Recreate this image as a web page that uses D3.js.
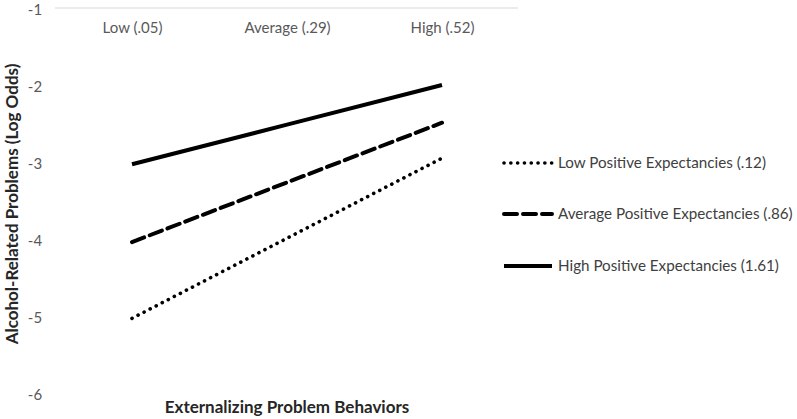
<!DOCTYPE html>
<html><head><meta charset="utf-8">
<script src="https://cdn.jsdelivr.net/npm/d3@7"></script>
<style>body{margin:0;background:#fff}svg{display:block}text{font-family:Lato,"Open Sans",sans-serif}</style>
</head><body><svg id="c" width="797" height="419"></svg>
<script>
const categories = ["Low (.05)", "Average (.29)", "High (.52)"];
const seriesNames = ["Low Positive Expectancies (.12)", "Average Positive Expectancies (.86)", "High Positive Expectancies (1.61)"];
const lowValues = [-5.03, -3.99, -2.95];
const avgValues = [-4.04, -3.265, -2.49];
const highValues = [-3.03, -2.515, -2.0];
const yTicks = [-1, -2, -3, -4, -5, -6];

const series = [
  {name: seriesNames[0], values: lowValues, dash: "0.1 6.7", width: 3.6, cap: "round"},
  {name: seriesNames[1], values: avgValues, dash: "13 6", width: 4, cap: "round"},
  {name: seriesNames[2], values: highValues, dash: null, width: 4, cap: "butt"}
];

const svg = d3.select("#c");
const x = d3.scalePoint().domain(categories).range([132, 442]);
const y = d3.scaleLinear().domain([-6, -1]).range([393, 8]);

// top gridline
svg.append("line").attr("x1", 55).attr("x2", 518).attr("y1", y(-1)).attr("y2", y(-1))
  .attr("stroke", "#d9d9d9").attr("stroke-width", 1);

// y axis labels
const yAxis = d3.axisLeft(y).tickValues(yTicks).tickSize(0).tickPadding(0).tickFormat(d => String(d));
const ya = svg.append("g").attr("transform", "translate(35,2)").call(yAxis);
ya.select(".domain").remove();
ya.selectAll("text").attr("fill", "#595959").attr("font-size", 15).attr("font-family", "Lato,'Open Sans',sans-serif").attr("text-anchor", "middle");

// x category labels
const xAxis = d3.axisBottom(x).tickSize(0).tickPadding(0);
const xa = svg.append("g").attr("transform", "translate(0,22)").call(xAxis);
xa.select(".domain").remove();
xa.selectAll("text").attr("fill", "#595959").attr("font-size", 15).attr("font-family", "Lato,'Open Sans',sans-serif");

const line = d3.line().x((d, i) => x(categories[i])).y(d => y(d));
series.forEach(s => {
  svg.append("path").datum(s.values).attr("d", line).attr("fill", "none")
    .attr("stroke", "#000").attr("stroke-width", s.width)
    .attr("stroke-linecap", s.cap).attr("stroke-dasharray", s.dash);
});

// legend
const legY = [163, 214, 266];
series.forEach((s, i) => {
  svg.append("line").attr("x1", 504).attr("x2", 552).attr("y1", legY[i]).attr("y2", legY[i])
    .attr("stroke", "#000").attr("stroke-width", s.width).attr("stroke-linecap", s.cap)
    .attr("stroke-dasharray", s.dash);
  svg.append("text").attr("x", 558).attr("y", legY[i]).attr("dy", "0.35em")
    .attr("font-size", 15.2).attr("fill", "#404040").text(s.name);
});

// axis titles
svg.append("text").attr("transform", "translate(18,204) rotate(-90)").attr("text-anchor", "middle")
  .attr("font-size", 17).attr("font-weight", "bold").attr("fill", "#262626")
  .text("Alcohol-Related Problems (Log Odds)");
svg.append("text").attr("x", 287).attr("y", 413).attr("text-anchor", "middle")
  .attr("font-size", 17).attr("font-weight", "bold").attr("fill", "#262626")
  .text("Externalizing Problem Behaviors");
</script></body></html>
